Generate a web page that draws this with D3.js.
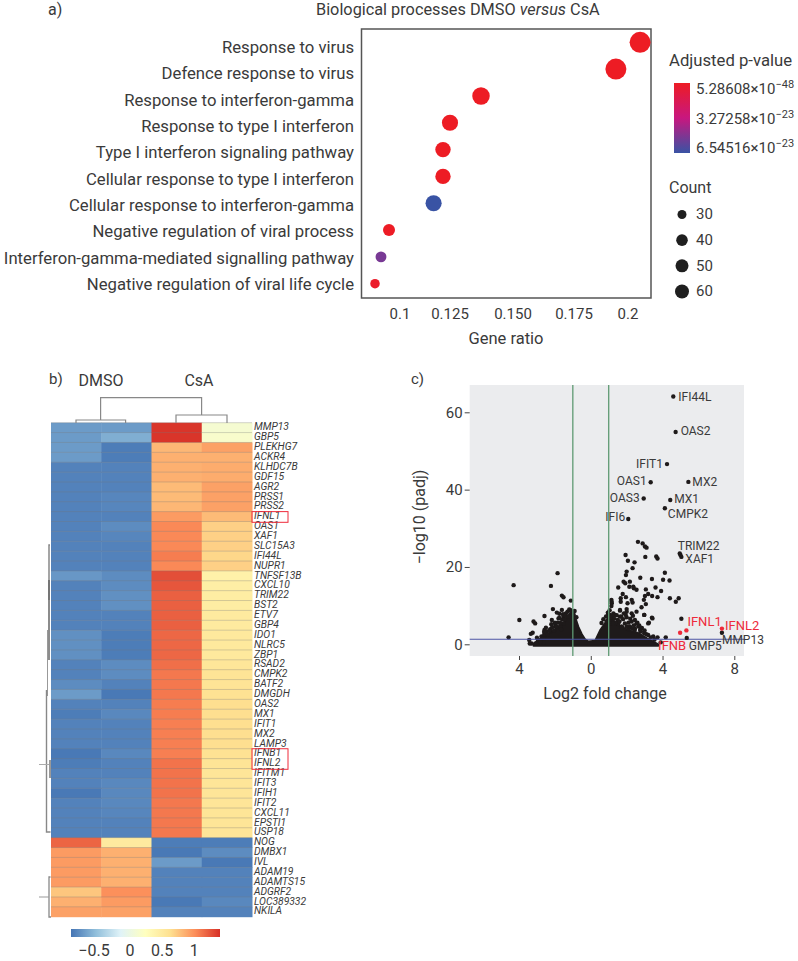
<!DOCTYPE html>
<html><head><meta charset="utf-8">
<script src="https://cdn.jsdelivr.net/npm/d3@7/dist/d3.min.js"></script>
<style>
html,body{margin:0;padding:0;background:#fff}
svg{display:block}
text{font-family:Roboto,"Noto Sans",sans-serif;fill:#3a3a3a}
</style></head><body>
<svg id="c" width="798" height="961"></svg>
<script>
// ---------- Panel a data ----------
const processes = ["Response to virus","Defence response to virus","Response to interferon-gamma","Response to type I interferon","Type I interferon signaling pathway","Cellular response to type I interferon","Cellular response to interferon-gamma","Negative regulation of viral process","Interferon-gamma-mediated signalling pathway","Negative regulation of viral life cycle"];
const geneRatio = [0.2056,0.1944,0.1373,0.125,0.1215,0.1215,0.1168,0.0945,0.0905,0.0875];
const pAdjusted = [5.28608e-48,1e-46,2e-35,1e-30,3e-30,3e-30,6.54516e-23,2e-25,5.1e-23,2e-24];
const counts = [80,80,70,66,64,64,66,43,37,32];
const ratioTicks = [0.1,0.125,0.15,0.175,0.2];
const ratioTickLabels = ["0.1","0.125","0.150","0.175","0.2"];
const pLegend = [5.28608e-48,3.27258e-23,6.54516e-23];
const pLegendMantissa = ["5.28608","3.27258","6.54516"];
const pLegendExponent = ["−48","−23","−23"];
const countLegend = [30,40,50,60];

// ---------- Panel b data ----------
const heatGenes = ["MMP13","GBP5","PLEKHG7","ACKR4","KLHDC7B","GDF15","AGR2","PRSS1","PRSS2","IFNL1","OAS1","XAF1","SLC15A3","IFI44L","NUPR1","TNFSF13B","CXCL10","TRIM22","BST2","ETV7","GBP4","IDO1","NLRC5","ZBP1","RSAD2","CMPK2","BATF2","DMGDH","OAS2","MX1","IFIT1","MX2","LAMP3","IFNB1","IFNL2","IFITM1","IFIT3","IFIH1","IFIT2","CXCL11","EPSTI1","USP18","NOG","DMBX1","IVL","ADAM19","ADAMTS15","ADGRF2","LOC389332","NKILA"];
const dmso1 = [-.72,-.72,-.72,-.72,-.85,-.85,-.85,-.85,-.85,-.85,-.85,-.85,-.85,-.85,-.85,-.74,-.85,-.85,-.85,-.85,-.85,-.78,-.78,-.78,-.85,-.85,-.8,-.72,-.85,-.88,-.85,-.85,-.85,-.9,-.88,-.85,-.85,-.9,-.85,-.85,-.85,-.85,1.18,.95,.95,.95,.95,.75,.85,.92];
const dmso2 = [-.72,-.62,-.88,-.88,-.85,-.85,-.85,-.83,-.83,-.85,-.8,-.83,-.85,-.85,-.85,-.8,-.8,-.78,-.78,-.85,-.85,-.88,-.88,-.88,-.8,-.8,-.85,-.9,-.85,-.82,-.85,-.85,-.85,-.82,-.85,-.85,-.82,-.82,-.82,-.83,-.85,-.85,.5,.85,.85,.85,.85,1.0,.95,.92];
const csa1 = [1.38,1.38,.82,.85,.85,.85,.8,.8,.82,.95,1.03,1.03,1.03,1.08,1.03,1.27,1.24,1.2,1.2,1.2,1.2,1.17,1.17,1.17,1.14,1.1,1.1,1.1,1.08,1.08,1.07,1.07,1.07,1.07,1.12,1.12,1.12,1.12,1.1,1.1,1.1,1.1,-.88,-.9,-.72,-.85,-.85,-.85,-.9,-.85];
const csa2 = [.12,.15,.92,.85,.87,.87,.92,.92,.92,.8,.7,.7,.7,.67,.7,.42,.45,.47,.47,.5,.5,.52,.52,.52,.55,.58,.58,.6,.63,.63,.63,.63,.63,.6,.58,.56,.56,.56,.56,.57,.57,.56,-.88,-.8,-.9,-.85,-.85,-.85,-.82,-.85];
const heatColumns = [dmso1,dmso2,csa1,csa2];
const boxedGenes = [["IFNL1"],["IFNB1","IFNL2"]];
const heatPalette = ["#4575B4","#91BFDB","#E0F3F8","#FFFFBF","#FEE090","#FC8D59","#D73027"];
const heatRange = [-0.92,1.4];
const heatTicks = [-0.5,0,0.5,1];

// ---------- Panel c data ----------
const namedGenes = ["IFI44L","OAS2","IFIT1","OAS1","MX2","OAS3","MX1","CMPK2","IFI6","TRIM22","XAF1","MMP13","GMP5","IFNL1","IFNL2","IFNB"];
const namedLfc = [4.6,4.73,4.25,3.34,5.44,2.95,4.43,4.13,2.09,4.96,5.05,7.31,5.35,5.33,7.31,4.98];
const namedSig = [64.1,54.9,46.6,41.9,42,37.7,37.3,35.2,32.4,23.5,22.6,3,1.65,3.6,4.06,3];
const highlighted = ["IFNL1","IFNL2","IFNB"];
const otherLfc = [2.63,2.89,3.02,3.11,3.04,1.94,2.07,2.44,2.33,3.65,3.72,4.13,2.76,3.41,4.03,4.39,2,1.96,1.83,1.92,2.18,1.53,2.15,2.37,2.55,2.4,3.07,3.61,3.92,3.02,3.2,3.42,3.72,4.41,4.9,4.74,1.78,1.67,1.96,2.28,1.15,1.17,1.67,2.05,2.33,2.96,2.83,3.07,1.15,1.63,2,1.07,1.35,2.98,3.41,3.24,5.05,4.18,3.72,5,1.16,1.63,2,2,1.63,1.26,.98,1.5,1.9,2.28,2.55,2.46,2.55,2.28,2.98,3.44,3.2,2.79,2.98,3.2,3.48,.89,1.07,1.53,1.72,2.18,2.46,2.65,
 -4.58,-3.98,-3.19,-3.1,-3.24,-3.34,-3.43,-2.58,-3,-3.1,-1.61,-1.52,-1.11,-2.11,-1.89,-1.61,-1.39,-1.15,-1,-2.58,-2.54,-2.26,-1.98,-2.17,-1.8,-1.52,-1.98,-1.52,-1.71,-2.73,-2.63,-1.85,-2.22,-4.3,
 -2.9,-2.75,-2.6,-2.45,-2.4,-2.3,-2.15,-2.05,-2,-1.9,-1.85,-1.75,-1.7,-1.6,-1.55,-1.45,-1.4,-1.3,-1.25,-1.2,-1.1,-.95,-.9,-2.5,-2.6,-3.05,-3.3,-3.4,-2.95,-2.8,-2.2,-1.65,-.8,-2.65,-1.75,
 .6,.7,.85,.95,1.05,1.2,1.3,1.45,1.4,1.6,1.7,1.8,1.85,1.95,2.1,2.2,2.35,2.4,2.6,2.7,2.75,2.85,2.45,2.3,3,1.1,1.25,1.75,2.1,2,3.1,3.35,3.55,3.9];
const otherSig = [26.5,26.1,25.3,25,22.6,23.1,21.6,21.2,19.7,22.7,22.2,18.5,17.2,16.9,16.7,16.5,18.8,17.9,16.2,15.8,16.2,14.7,14.9,14.9,14.1,14.5,14.2,14.7,13.8,12.5,13,12.5,12.2,11.9,11.9,11,13,11.9,12.2,11.5,11.5,10.6,11,10.6,10.8,11.5,9.6,10.4,9.9,8.9,9.1,7.6,7.6,7.6,6.9,5.6,6.6,1.8,1.8,23.1,11,8.7,8.45,7,7.15,8,7.8,6.3,5.4,8,8.45,6.3,5.4,5.9,7.6,6.7,5.4,3.3,2.85,2.4,2,5.9,5.4,5.4,4.6,4.6,4.1,4.6,
 1.8,6.3,5.9,5.4,3,2.7,1.1,7.3,1.7,.1,12.6,12.15,11.3,9.1,8.2,8.9,8,8.9,8,3.7,2.8,3.9,4.6,6.3,6.7,7.2,5.4,5.4,4.6,1.1,.5,18.4,15.1,15.3,
 .9,2,2.4,3.3,2.6,3.6,4.4,3.5,5.6,4.6,5.6,6.8,5.5,6.4,7.8,6.5,7.4,8.4,7.2,9,8.6,7.6,8.6,4.3,3.2,.3,.2,.2,1.2,.6,5.2,3.9,7,1.6,7.9,
 5.5,6.5,7.2,8.2,8.8,7.2,6.6,7.5,5.5,5.9,7.2,6.5,8,7.6,5.6,6.6,7.4,4.9,5.6,4.9,3.7,4.2,3.7,4,3.6,6.9,5.4,4.4,4,4.6,2.6,1.8,1.2,.5];
// Upper edge of the solid mass of overlapping points near the baseline
const massLfc = [-3.19,-3,-2.8,-2.26,-1.8,-1.52,-1.24,-1.06,-.87,-.69,-.5,-.32,-.13,.24,.52,.8,.98,1.16,1.53,2.09,2.65,3.11,3.48,3.76];
const massTop = [0,.7,1.5,3,4.5,5.5,7.5,8.5,7,4.5,2.6,1.3,.7,.9,3.6,5.5,7,6.5,5,3.6,2.9,1.6,.7,0];
const volcanoXTicks = [-4,0,4,8];
const volcanoXLabels = ["4","0","4","8"];
const volcanoYTicks = [0,20,40,60];
const lfcThresholds = [-1,1];
const sigThreshold = 1.3;

// ---------- Drawing ----------
const svg = d3.select("#c");
const txt = (s,x,y,size,anchor="start") => s.append("text").attr("x",x).attr("y",y).attr("font-size",size).attr("text-anchor",anchor).attr("dominant-baseline","middle");

// Panel a
const A = {l:361.5,r:651,t:29,b:298};
const ax = d3.scaleLinear().domain(ratioTicks).range([400,450,513,574,628]);
const ay = d3.scalePoint().domain(processes).range([42.3,283.7]);
const ayLabel = d3.scalePoint().domain(processes).range([48.5,285.5]);
const ac = d3.scaleLinear().domain(pLegend).range(["#ed1c24","#c8177f","#3953a4"]);
const ar = d3.scaleLinear().domain([30,40,50,60,80]).range([4.5,5.8,6.5,7,10.5]);
const a = svg.append("g");
txt(a,48,11,16).text("a)");
const title = txt(a,316,11,16.3);
title.append("tspan").text("Biological processes DMSO ");
title.append("tspan").attr("font-style","italic").text("versus");
title.append("tspan").text(" CsA");
a.append("rect").attr("x",A.l).attr("y",A.t).attr("width",A.r-A.l).attr("height",A.b-A.t).attr("fill","#fff").attr("stroke","#555").attr("stroke-width",1.5);
a.selectAll("text.p").data(processes).join("text").attr("class","p").attr("x",354).attr("y",d=>ayLabel(d)).attr("text-anchor","end").attr("dominant-baseline","middle").attr("font-size",16.7).text(d=>d);
a.selectAll("circle.d").data(processes).join("circle").attr("class","d").attr("cx",(d,i)=>ax(geneRatio[i])).attr("cy",d=>ay(d)).attr("r",(d,i)=>ar(counts[i])).attr("fill",(d,i)=>ac(pAdjusted[i]));
a.selectAll("text.t").data(ratioTicks).join("text").attr("class","t").attr("x",d=>ax(d)).attr("y",315).attr("text-anchor","middle").attr("dominant-baseline","middle").attr("font-size",15).text((d,i)=>ratioTickLabels[i]);
txt(a,506,340,16.5,"middle").text("Gene ratio");
txt(a,669,62,16.7).text("Adjusted p-value");
const defs = svg.append("defs");
const gr = defs.append("linearGradient").attr("id","pg").attr("x1",0).attr("x2",0).attr("y1",0).attr("y2",1);
pLegend.forEach((p,i)=>gr.append("stop").attr("offset",i/(pLegend.length-1)).attr("stop-color",ac(p)));
a.append("rect").attr("x",674).attr("y",83).attr("width",16).attr("height",70).attr("fill","url(#pg)");
const pLy = d3.scalePoint().domain(pLegend).range([90,149]);
pLegend.forEach((p,i)=>{
  const t = txt(a,696,pLy(p),15);
  t.append("tspan").text(pLegendMantissa[i]+"×10");
  t.append("tspan").attr("dy",-5).attr("font-size",11).text(pLegendExponent[i]);
});
txt(a,669,189,16).text("Count");
const cLy = d3.scaleLinear().domain([30,60]).range([214.5,291.5]);
a.selectAll("circle.l").data(countLegend).join("circle").attr("class","l").attr("cx",682).attr("cy",d=>cLy(d)).attr("r",d=>ar(d)).attr("fill","#1f1f1f");
a.selectAll("text.l").data(countLegend).join("text").attr("class","l").attr("x",696).attr("y",d=>cLy(d)+1).attr("dominant-baseline","middle").attr("font-size",15).text(d=>d);

// Panel b
const H = {l:51,r:252,t:422.7,b:916.7};
const hx = d3.scaleBand().domain(d3.range(4)).range([H.l,H.r]);
const hy = d3.scaleBand().domain(heatGenes).range([H.t,H.b]);
const hc = d3.scaleLinear().domain(d3.range(heatPalette.length).map(i=>heatRange[0]+(heatRange[1]-heatRange[0])*i/(heatPalette.length-1))).range(heatPalette);
const b = svg.append("g");
txt(b,49,380,15).text("b)");
txt(b,101,382,16,"middle").text("DMSO");
txt(b,199,382,16,"middle").text("CsA");
heatColumns.forEach((col,j)=>{
  b.selectAll("rect.c"+j).data(heatGenes).join("rect").attr("class","c"+j).attr("x",hx(j)).attr("y",d=>hy(d)).attr("width",hx.bandwidth()+.5).attr("height",hy.bandwidth()+.5).attr("fill",(d,i)=>hc(col[i]));
});
b.selectAll("line.s").data(heatGenes).join("line").attr("class","s").attr("x1",H.l).attr("x2",H.r).attr("y1",d=>hy(d)).attr("y2",d=>hy(d)).attr("stroke","#777").attr("stroke-opacity",.4).attr("stroke-width",.8);
b.selectAll("text.g").data(heatGenes).join("text").attr("class","g").attr("x",254).attr("y",d=>hy(d)+hy.bandwidth()/2).attr("dominant-baseline","middle").attr("font-size",10.3).attr("font-style","italic").text(d=>d);
boxedGenes.forEach(list=>{
  b.append("rect").attr("x",H.r).attr("y",hy(list[0])).attr("width",36).attr("height",hy.bandwidth()*list.length+.8).attr("fill","none").attr("stroke","#ee2a3a").attr("stroke-width",1);
});
const dend = (pts,w=1.2,col="#888")=>b.append("path").attr("d",d3.line()(pts)).attr("fill","none").attr("stroke",col).attr("stroke-width",w);
dend([[100.6,420],[100.6,397.7],[201.6,397.7],[201.6,415]]);
dend([[76,423],[76,420],[125.6,420],[125.6,423]]);
dend([[176,423],[176,415],[227,415],[227,423]]);
dend([[50,545],[49,545],[49,600]],1.5,"#888");
dend([[49,580],[49,660]],1.5,"#666");
dend([[47.5,630],[47.5,696]],1,"#999");
dend([[46.5,690],[46.5,832],[50.5,832]],1.4,"#888");
dend([[50,760],[50,778]],1.5,"#777");
dend([[39,764.5],[49,764.5]],1,"#aaa");
dend([[50.5,877],[49,877],[49,917],[51,917]],1.3,"#888");
dend([[39,897],[49,897]],1,"#999");
// colour bar
const cb = d3.scaleLinear().domain(heatRange).range([71,220]);
const hg = defs.append("linearGradient").attr("id","hg");
heatPalette.forEach((c,i)=>hg.append("stop").attr("offset",i/(heatPalette.length-1)).attr("stop-color",c));
b.append("rect").attr("x",cb.range()[0]).attr("y",929).attr("width",cb.range()[1]-cb.range()[0]).attr("height",8).attr("fill","url(#hg)");
b.selectAll("text.cb").data(heatTicks).join("text").attr("class","cb").attr("x",d=>cb(d)-(d<0?4:0)).attr("y",952).attr("text-anchor","middle").attr("dominant-baseline","middle").attr("font-size",16).text(d=>d<0?"−"+Math.abs(d):d);

// Panel c
const V = {l:469.7,r:744,t:385,b:656};
const vx = d3.scaleLinear().domain([-4,8]).range([519,734.3]);
const vy = d3.scaleLinear().domain([0,60]).range([644.3,412.3]);
const c = svg.append("g");
txt(c,411,380,15).text("c)");
c.append("rect").attr("x",V.l).attr("y",V.t).attr("width",V.r-V.l).attr("height",V.b-V.t).attr("fill","#ebecee");
const massArea = d3.area().x((d,i)=>vx(massLfc[i])).y1((d,i)=>vy(massTop[i])).y0(vy(-0.35));
c.append("path").datum(massLfc).attr("d",massArea).attr("fill","#1e1a1a").attr("stroke","#1e1a1a").attr("stroke-width",2).attr("stroke-linejoin","round");
c.selectAll("circle.o").data(otherLfc).join("circle").attr("class","o").attr("cx",d=>vx(d)).attr("cy",(d,i)=>vy(otherSig[i])).attr("r",2.2).attr("fill","#1e1a1a");
c.selectAll("line.v").data(lfcThresholds).join("line").attr("class","v").attr("x1",d=>vx(d)).attr("x2",d=>vx(d)).attr("y1",V.t).attr("y2",V.b).attr("stroke","#5f9a73").attr("stroke-width",1.3);
c.append("line").attr("x1",V.l).attr("x2",V.r).attr("y1",vy(sigThreshold)).attr("y2",vy(sigThreshold)).attr("stroke","#4c55a4").attr("stroke-width",1.2);
c.selectAll("circle.n").data(namedGenes).join("circle").attr("class","n").attr("cx",(d,i)=>vx(namedLfc[i])).attr("cy",(d,i)=>vy(namedSig[i])).attr("r",2.2).attr("fill",d=>highlighted.includes(d)?"#ee2a3a":"#1e1a1a");
const labelOffset = {IFI44L:[5,1,"start"],OAS2:[5,0,"start"],IFIT1:[-4,1,"end"],OAS1:[-4,0,"end"],MX2:[4,1,"start"],OAS3:[-4,0,"end"],MX1:[4,0,"start"],CMPK2:[3,7,"start"],IFI6:[-3,-1,"end"],TRIM22:[-2,-7,"start"],XAF1:[4,3,"start"],MMP13:[0,8,"start"],GMP5:[2,9,"start"],IFNL1:[1,-8,"start"],IFNL2:[3,-2,"start"],IFNB:[-22,14,"start"]};
c.selectAll("text.n").data(namedGenes).join("text").attr("class","n").attr("x",(d,i)=>vx(namedLfc[i])+labelOffset[d][0]).attr("y",(d,i)=>vy(namedSig[i])+labelOffset[d][1]).attr("text-anchor",d=>labelOffset[d][2]).attr("dominant-baseline","middle").attr("font-size",d=>highlighted.includes(d)?13:12).style("fill",d=>highlighted.includes(d)?"#ee2a3a":"#3a3a3a").text(d=>d);
const yAxis = d3.axisLeft(vy).tickValues(volcanoYTicks).tickSize(5).tickPadding(2);
const yg = c.append("g").attr("transform",`translate(${V.l},0)`).call(yAxis);
const xAxis = d3.axisBottom(vx).tickValues(volcanoXTicks).tickFormat((d,i)=>volcanoXLabels[i]).tickSize(4).tickPadding(3);
const xg = c.append("g").attr("transform",`translate(0,${V.b})`).call(xAxis);
[yg,xg].forEach(g=>{g.select(".domain").remove();g.selectAll("line").attr("stroke","#444");g.selectAll("text").attr("font-size",15).attr("font-family",null)});
txt(c,605,695,16,"middle").text("Log2 fold change");
txt(c,0,0,16,"middle").attr("transform","translate(421,517) rotate(-90)").text("−log10 (padj)");
</script>
</body></html>
